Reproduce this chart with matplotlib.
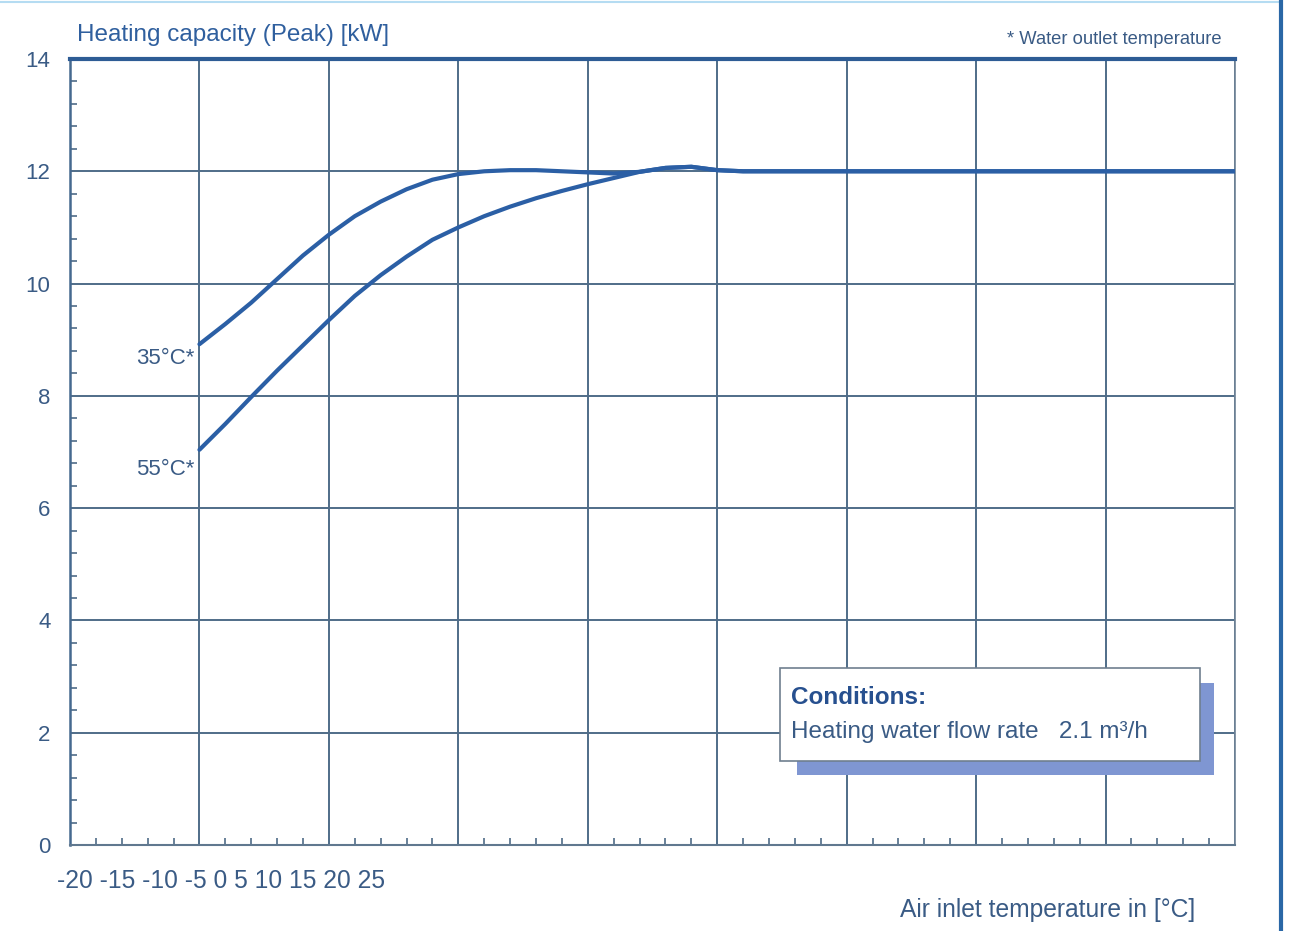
import numpy as np
import matplotlib.pyplot as plt
from matplotlib.patches import Rectangle
from matplotlib.lines import Line2D

# values (air inlet temperature, kW)
air_temp = [-15, -14, -13, -12, -11, -10, -9, -8, -7, -6, -5, -4, -3, -2,
            -1, 0, 1, 2, 3, 4, 5, 6, 25]
capacity_35 = [8.92, 9.28, 9.66, 10.08, 10.5, 10.87, 11.2, 11.46, 11.68,
               11.85, 11.95, 12.0, 12.02, 12.02, 12.0, 11.98, 11.96, 11.99,
               12.06, 12.08, 12.02, 12.0, 12.0]
capacity_55 = [7.04, 7.5, 7.98, 8.45, 8.9, 9.35, 9.78, 10.15, 10.48, 10.78,
               11.0, 11.2, 11.37, 11.52, 11.65, 11.77, 11.88, 11.99, 12.06,
               12.08, 12.02, 12.0, 12.0]

x_ticks = [-20, -15, -10, -5, 0, 5, 10, 15, 20, 25]
y_ticks = [0, 2, 4, 6, 8, 10, 12, 14]

line_col = '#2b5fa5'
grid_col = '#4f6c88'
text_col = '#3a5b85'
font = ['Liberation Sans', 'DejaVu Sans']
plt.rcParams['font.family'] = font

fig = plt.figure(figsize=(12.9, 9.31), dpi=100)
ax = fig.add_axes([70/1290, 1 - 845/931, 1165/1290, 786/931])

ax.plot(air_temp, capacity_35, color=line_col, lw=3, solid_capstyle='round',
        solid_joinstyle='round', zorder=3)
ax.plot(air_temp, capacity_55, color=line_col, lw=3, solid_capstyle='round',
        solid_joinstyle='round', zorder=3)

ax.set_xlim(-20, 25)
ax.set_ylim(0, 14)
ax.set_xticks(x_ticks)
ax.set_xticklabels([])
ax.set_xticks(np.arange(-20, 26, 1), minor=True)
ax.set_yticks(y_ticks)
ax.set_yticks(np.arange(0, 14.01, 0.4), minor=True)
ax.grid(which='major', color=grid_col, lw=1.4, zorder=1)
ax.tick_params(which='major', length=0, pad=14, labelsize=16, labelcolor=text_col)
ax.tick_params(which='minor', direction='in', length=5, width=1.2, color=grid_col)

ax.spines['top'].set_color('#2e5c95')
ax.spines['top'].set_linewidth(3)
ax.spines['left'].set_color('#45698f')
ax.spines['left'].set_linewidth(1.8)
ax.spines['bottom'].set_color('#60788f')
ax.spines['bottom'].set_linewidth(1.5)
ax.spines['right'].set_color('#6f8396')
ax.spines['right'].set_linewidth(1.2)

# curve labels
ax.text(-15.21, 8.67, '35°C*', ha='right', va='center', fontsize=16,
        color=text_col)
ax.text(-15.21, 6.68, '55°C*', ha='right', va='center', fontsize=16,
        color=text_col)

# conditions box with shadow
ax.add_patch(Rectangle((8.09, 1.25), 16.11, 1.64, facecolor='#7f96d2',
                       edgecolor='none', zorder=4))
ax.add_patch(Rectangle((7.43, 1.50), 16.23, 1.65, facecolor='white',
                       edgecolor='#6f7f8f', lw=1.2, zorder=5))
ax.text(7.86, 2.62, 'Conditions:', ha='left', va='center', fontsize=17.5,
        fontweight='bold', color='#27508f', zorder=6)
ax.text(7.86, 2.01, 'Heating water flow rate   2.1 m³/h', ha='left', va='center',
        fontsize=17.5, color=text_col, zorder=6)

# texts outside the axes
fig.text(77/1290, 1 - 41/931, 'Heating capacity (Peak) [kW]', ha='left',
         va='baseline', fontsize=17.5, color='#2f5f9e')
fig.text(1222/1290, 1 - 44/931, '* Water outlet temperature', ha='right',
         va='baseline', fontsize=13.2, color=text_col)
fig.text(57/1290, 1 - 881/931, ' '.join(str(t) for t in x_ticks), ha='left',
         va='center', fontsize=17.7, color=text_col)
fig.text(1195/1290, 1 - 910/931, 'Air inlet temperature in [°C]', ha='right',
         va='center', fontsize=17.7, color=text_col)

# page frame
fig.add_artist(Line2D([0, 1281/1290], [1 - 1.5/931, 1 - 1.5/931],
                      color='#b5dcf2', lw=1.5))
fig.add_artist(Line2D([1281/1290, 1281/1290], [0, 1], color='#2a67a6', lw=3))

plt.savefig('out.png', dpi=100)
plt.close()
